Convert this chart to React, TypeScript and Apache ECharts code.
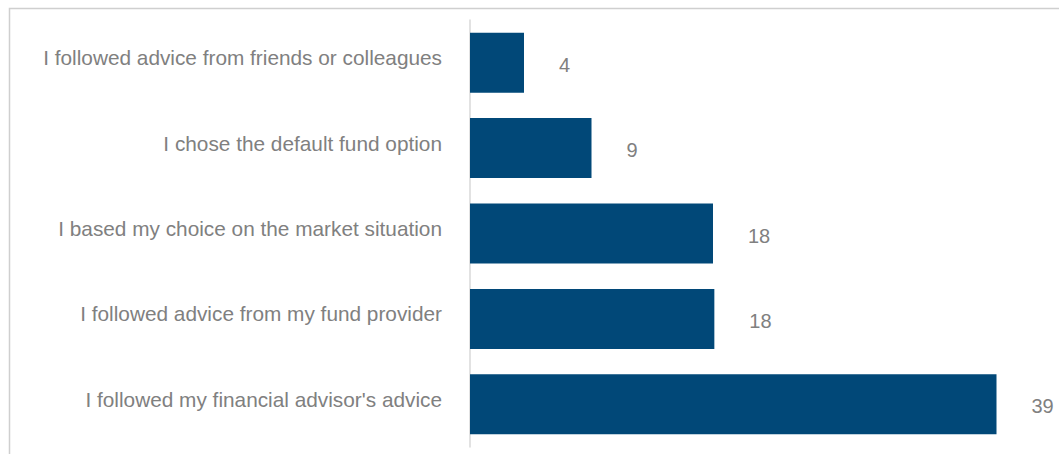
import React, { useEffect, useRef } from "react";
import * as echarts from "echarts";

const categories = [
  "I followed advice from friends or colleagues",
  "I chose the default fund option",
  "I based my choice on the market situation",
  "I followed advice from my fund provider",
  "I followed my financial advisor's advice",
];
const values = [4, 9, 18, 18.1, 39];
const valueLabels = ["4", "9", "18", "18", "39"];

export default function App() {
  const ref = useRef<HTMLDivElement>(null);
  useEffect(() => {
    if (!ref.current) return;
    const chart = echarts.init(ref.current, undefined, { renderer: "svg" });
    chart.setOption({
      animation: false,
      graphic: [
        {
          type: "rect",
          shape: { x: 9.5, y: 8.5, width: 1200, height: 600 },
          style: { fill: "none", stroke: "#cfcfcf", lineWidth: 1.5 },
          silent: true,
        },
      ],
      grid: { left: 470, top: 20, width: 540, bottom: 7, containLabel: false },
      xAxis: {
        type: "value",
        min: 0,
        max: 40,
        show: false,
        splitLine: { show: false },
      },
      yAxis: {
        type: "category",
        inverse: true,
        data: categories,
        axisLine: { show: true, lineStyle: { color: "#d9d9d9", width: 1.5 } },
        axisTick: { show: false },
        axisLabel: {
          margin: 28,
          color: "#808080",
          fontSize: 20.8,
          fontFamily: "Liberation Sans, Arial, sans-serif",
          verticalAlign: "bottom",
          lineHeight: 10,
        },
      },
      series: [
        {
          type: "bar",
          data: values,
          barWidth: 60,
          itemStyle: { color: "#014878" },
          label: {
            show: true,
            position: "right",
            distance: 35,
            offset: [0, 2],
            color: "#808080",
            fontSize: 20,
            fontFamily: "Liberation Sans, Arial, sans-serif",
            formatter: (p: any) => valueLabels[p.dataIndex],
          },
        },
      ],
    });
    return () => chart.dispose();
  }, []);
  return (
    <div
      ref={ref}
      style={{ position: "fixed", left: 0, top: 0, width: 1059, height: 454, background: "#fff" }}
    />
  );
}
